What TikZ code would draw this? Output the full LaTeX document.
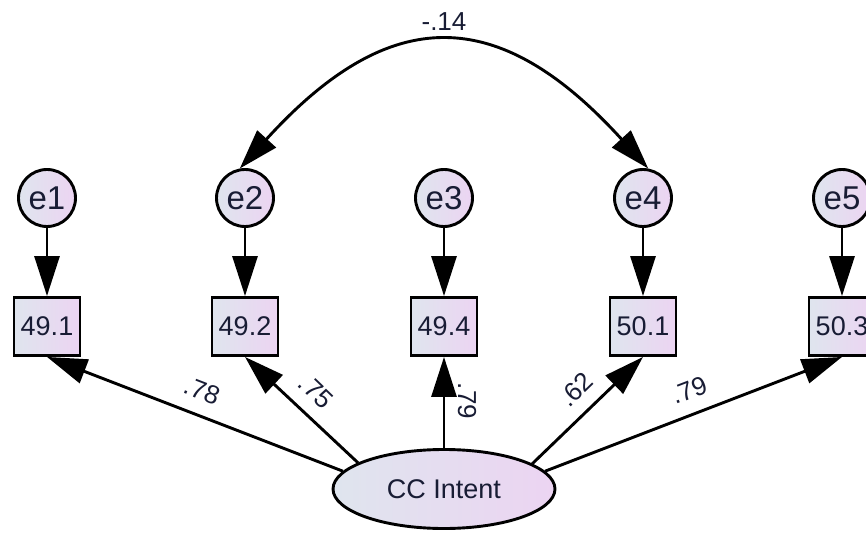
\documentclass[tikz,border=0pt]{standalone}
\usepackage{fontspec}
\setmainfont{Liberation Sans}
\usetikzlibrary{arrows.meta,shapes.geometric}
\definecolor{fillleft}{RGB}{223,229,238}
\definecolor{fillright}{RGB}{236,212,242}
\definecolor{ink}{RGB}{24,28,52}
\tikzstyle{arrow} = [
    line width=2.9pt,
    -{Triangle[length=40pt,width=25pt]},
    draw=black
]
\tikzstyle{observed} = [
    rectangle,
    minimum width=66pt,
    minimum height=58pt,
    inner sep=0pt,
    line width=2.9pt,
    draw=black,
    left color=fillleft,
    right color=fillright,
    text=ink,
    font=\fontsize{27}{27}\selectfont
]
\tikzstyle{errvar} = [
    circle,
    minimum size=57pt,
    inner sep=0pt,
    line width=2.9pt,
    draw=black,
    left color=fillleft,
    right color=fillright,
    text=ink,
    font=\fontsize{33}{33}\selectfont
]
\tikzstyle{latent} = [
    ellipse,
    minimum width=222pt,
    minimum height=79pt,
    inner sep=0pt,
    line width=2.9pt,
    draw=black,
    left color=fillleft,
    right color=fillright,
    text=ink,
    font=\fontsize{27}{27}\selectfont
]
\tikzstyle{coef} = [
    inner sep=0pt,
    text=ink,
    font=\fontsize{26}{26}\selectfont
]

\begin{document}
\begin{tikzpicture}[x=1pt,y=1pt]
    \useasboundingbox (0,0) rectangle (866,533);
    \clip (0,0) rectangle (866,533);

    % factor
    \node[latent] (cc) at (444,44) {CC Intent};

    % indicators
    \node[observed] (b1) at (47,206.5) {49.1};
    \node[observed] (b2) at (245,206.5) {49.2};
    \node[observed] (b3) at (444,206.5) {49.4};
    \node[observed] (b4) at (643,206.5) {50.1};
    \node[observed] (b5) at (842,206.5) {50.3};

    % error terms
    \node[errvar] (e1) at (47,335) {e1};
    \node[errvar] (e2) at (245,335) {e2};
    \node[errvar] (e3) at (444,335) {e3};
    \node[errvar] (e4) at (643,335) {e4};
    \node[errvar] (e5) at (842,335) {e5};

    \draw[arrow] (e1) -- (b1);
    \draw[arrow] (e2) -- (b2);
    \draw[arrow] (e3) -- (b3);
    \draw[arrow] (e4) -- (b4);
    \draw[arrow] (e5) -- (b5);

    % loadings
    \draw[arrow] (cc.170) -- (b1.south);
    \draw[arrow] (cc.163.5) -- (b2.south);
    \draw[arrow] (cc.north) -- (b3.south);
    \draw[arrow] (cc.16.5) -- (b4.south);
    \draw[arrow] (cc.10) -- (b5.south);

    % covariance e2 <-> e4
    \draw[arrow, {Triangle[length=40pt,width=25pt]}-{Triangle[length=40pt,width=25pt]}]
        (e2.100) .. controls +(150,165) and +(-150,165) .. (e4.80);

    \node[coef] (cov24) at (444,511) {-.14};
    \node[coef, rotate=-21] (w1) at (202,142) {.78};
    \node[coef, rotate=-44] (w2) at (316,141) {.75};
    \node[coef, rotate=-90] (w3) at (467,132) {.79};
    \node[coef, rotate=44] (w4) at (576,143) {.62};
    \node[coef, rotate=21] (w5) at (689,143) {.79};
\end{tikzpicture}
\end{document}
